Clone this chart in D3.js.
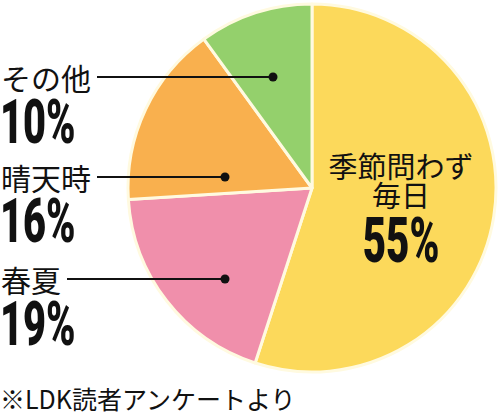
<!DOCTYPE html>
<html>
<head>
<meta charset="utf-8">
<script src="https://cdn.jsdelivr.net/npm/d3@7"></script>
<style>
  body { margin: 0; background: #fff; }
  svg { display: block; }
</style>
</head>
<body>
<div id="chart"></div>
<script>
// data
const categories = ["季節問わず毎日", "春夏", "晴天時", "その他"];
const values = [55, 19, 16, 10];
const colors = ["#fcd95b", "#f08fab", "#f9b04e", "#94d06c"];
const note = "※LDK読者アンケートより";

const w = 500, h = 420;
const cx = 312, cy = 188, r = 184;

const svg = d3.select("#chart")
  .append("svg")
    .attr("width", w)
    .attr("height", h);

const pie = d3.pie().sort(null).value(d => d)(values);
const arc = d3.arc().innerRadius(0).outerRadius(r);

const g = svg.append("g").attr("transform", "translate(" + cx + "," + cy + ")");

g.selectAll("path")
  .data(pie)
  .enter()
  .append("path")
    .attr("d", arc)
    .attr("fill", (d, i) => colors[i])
    .attr("stroke", "#fffae0")
    .attr("stroke-width", 3)
    .attr("stroke-linejoin", "round");

const jp = "'Noto Sans CJK JP', 'Noto Sans', sans-serif";
const num = "Roboto, 'Liberation Sans', sans-serif";
const squeeze = 0.64;

// left labels: slice index, label y, dot x, number baseline
const leftLabels = [
  {i: 3, y: 77, dotX: 273, numY: 143},
  {i: 2, y: 177, dotX: 225, numY: 242},
  {i: 1, y: 279, dotX: 225, numY: 345}
];

leftLabels.forEach(l => {
  const t = svg.append("text")
    .attr("x", 1)
    .attr("y", l.y)
    .attr("dominant-baseline", "central")
    .attr("font-family", jp)
    .attr("font-size", 30)
    .attr("fill", "#111")
    .text(categories[l.i]);
  const x0 = t.node().getBBox().x + t.node().getBBox().width + 6;
  svg.append("line")
    .attr("x1", x0).attr("x2", l.dotX)
    .attr("y1", l.y).attr("y2", l.y)
    .attr("stroke", "#111")
    .attr("stroke-width", 2);
  svg.append("circle")
    .attr("cx", l.dotX).attr("cy", l.y)
    .attr("r", 4.5)
    .attr("fill", "#111");
  svg.append("text")
    .attr("transform", "translate(0," + l.numY + ") scale(" + squeeze + ",1)")
    .attr("font-family", num)
    .attr("font-weight", 900)
    .attr("font-size", 62)
    .attr("fill", "#111")
    .text(values[l.i] + "%");
});

// main slice label
svg.append("text")
  .attr("x", 401).attr("y", 165)
  .attr("text-anchor", "middle")
  .attr("dominant-baseline", "central")
  .attr("font-family", jp)
  .attr("font-size", 29)
  .attr("fill", "#111")
  .text(categories[0].slice(0, 5));
svg.append("text")
  .attr("x", 401).attr("y", 194)
  .attr("text-anchor", "middle")
  .attr("dominant-baseline", "central")
  .attr("font-family", jp)
  .attr("font-size", 29)
  .attr("fill", "#111")
  .text(categories[0].slice(5));
svg.append("text")
  .attr("transform", "translate(401,262) scale(" + squeeze + ",1)")
  .attr("text-anchor", "middle")
  .attr("font-family", num)
  .attr("font-weight", 900)
  .attr("font-size", 63)
  .attr("fill", "#111")
  .text(values[0] + "%");

svg.append("text")
  .attr("x", 0).attr("y", 398)
  .attr("dominant-baseline", "central")
  .attr("font-family", jp)
  .attr("font-size", 25)
  .attr("fill", "#111")
  .text(note);
</script>
</body>
</html>
